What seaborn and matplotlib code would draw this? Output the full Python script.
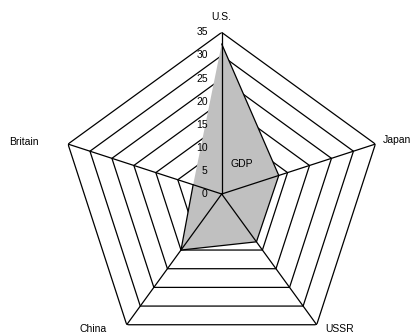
import numpy as np
import matplotlib
matplotlib.use("Agg")
import matplotlib.pyplot as plt
import seaborn as sns

categories = ["U.S.", "Japan", "USSR", "China", "Britain"]
gdp_values = [32.5, 13.0, 12.8, 15.0, 6.5]
radial_ticks = [0, 5, 10, 15, 20, 25, 30, 35]
series_name = "GDP"

sns.set_theme(style="white")
plt.rcParams['font.family'] = ['Liberation Sans', 'DejaVu Sans']

fig = plt.figure(figsize=(4.13, 3.33), dpi=100)
ax = fig.add_axes([0.1455, -0.0679, 0.7826, 0.9706], projection='polar')
ax.set_theta_offset(np.pi / 2)
ax.set_theta_direction(-1)
ax.set_ylim(0, max(radial_ticks))
ax.grid(False)
ax.spines['polar'].set_visible(False)
ax.set_xticks([])
ax.set_yticks([])
ax.set_facecolor('none')

n = len(categories)
angles = np.arange(n) * 2 * np.pi / n
closed = np.append(angles, angles[0])

# grid polygons (under the fill)
for r in radial_ticks[1:]:
    ax.plot(closed, [r] * (n + 1), color='black', lw=0.9, zorder=0.5)

# data polygon
vals = np.append(gdp_values, gdp_values[0])
ax.fill(closed, vals, facecolor='#c0c0c0', edgecolor='none', zorder=1)

# spokes (above the fill)
for a in angles:
    ax.plot([a, a], [0, max(radial_ticks)], color='black', lw=0.9, zorder=2)

sns.lineplot(x=closed, y=vals, sort=False, color='black', lw=0.9, ax=ax, zorder=3)

# radial tick labels
for r in radial_ticks:
    ax.annotate(str(r), xy=(0, r), xytext=(-14 * 0.72, 0), textcoords='offset points',
                ha='right', va='center', fontsize=7.5, color='black', zorder=4)

# category labels
offsets = {"U.S.": (0, 15.7), "Japan": (21.6, 3.7), "USSR": (23.3, -4),
           "China": (-33.7, -4), "Britain": (-44, 2.4)}
for a, c in zip(angles, categories):
    dx, dy = offsets[c]
    ax.annotate(c, xy=(a, max(radial_ticks)), xytext=(dx * 0.72, dy * 0.72),
                textcoords='offset points', ha='center', va='center',
                fontsize=7.5, color='black', annotation_clip=False)

ax.text(np.deg2rad(34), 7.8, series_name, ha='center', va='center', fontsize=7.5,
        color='black', zorder=4)

fig.savefig("out.png", dpi=100)
